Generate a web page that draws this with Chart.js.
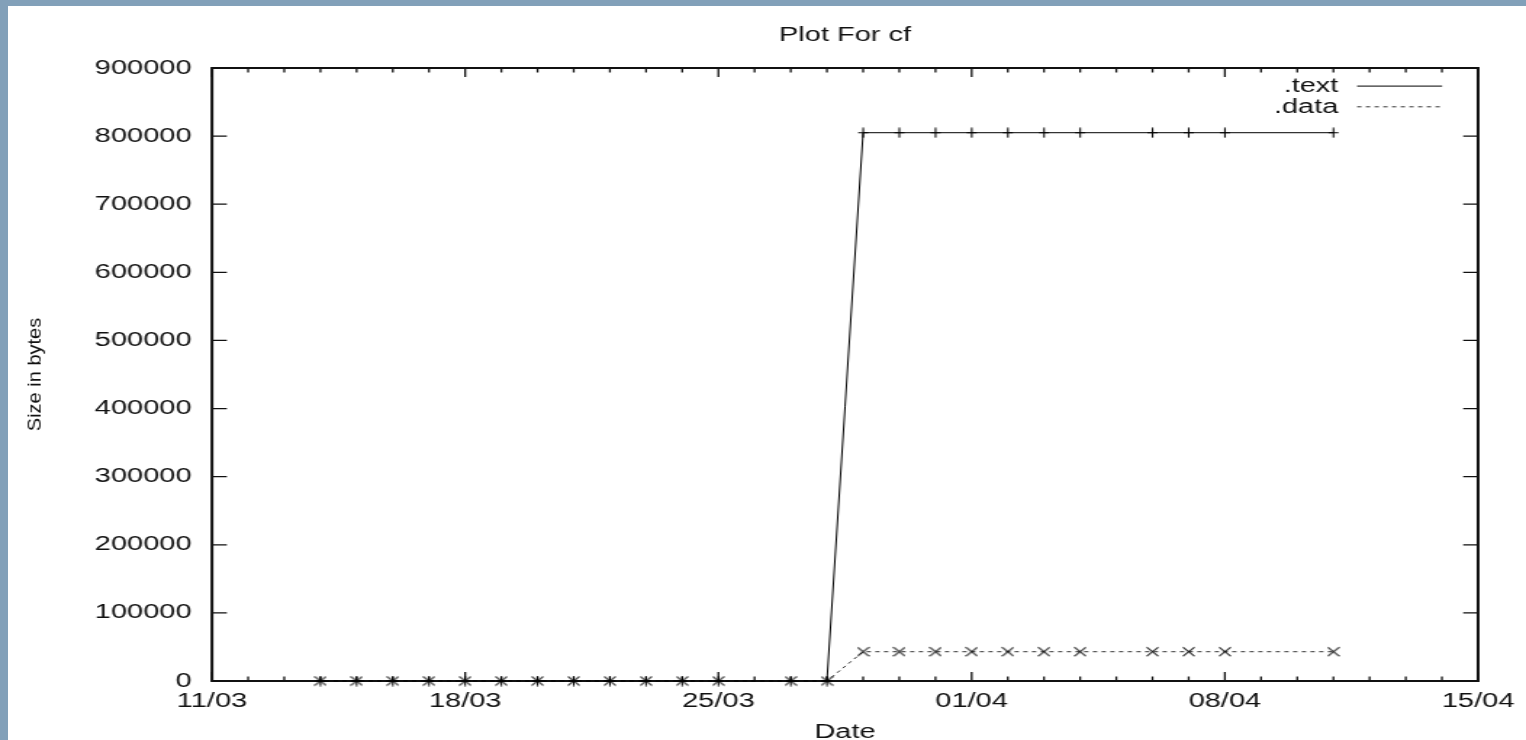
<!DOCTYPE html>
<html>
<head>
<meta charset="utf-8">
<title>Plot For cf</title>
<script src="https://cdn.jsdelivr.net/npm/chart.js@4.4.1/dist/chart.umd.min.js"></script>
<style>
  html, body { margin: 0; padding: 0; overflow: hidden; background: #fff; }
  body { width: 1526px; height: 740px; position: relative; }
  .strip { position: absolute; left: 0; top: 0; background: #82a0b9; z-index: 2; }
  #left { width: 8px; height: 740px; }
  #top { width: 1526px; height: 6px; }
  /* the original png is stretched sideways, so draw narrow and widen it */
  #wrap { position: absolute; left: 0; top: 0; width: 1052px; height: 760px;
          transform: scaleX(1.450570); transform-origin: 0 0; }
  #wrap canvas { display: block; width: 1052px; height: 760px; }
</style>
</head>
<body>
<div class="strip" id="left"></div>
<div class="strip" id="top"></div>
<div id="wrap"><canvas id="myChart" width="1052" height="760"></canvas></div>
<script>
// build dates (dd/mm)
var dates = ["14/03", "15/03", "16/03", "17/03", "18/03", "19/03", "20/03", "21/03",
             "22/03", "23/03", "24/03", "25/03", "27/03", "28/03", "29/03", "30/03",
             "31/03", "01/04", "02/04", "03/04", "04/04", "06/04", "07/04", "08/04", "11/04"];
var textSize = [0, 0, 0, 0, 0, 0, 0, 0, 0, 0, 0, 0, 0, 0,
                805000, 805000, 805000, 805000, 805000, 805000, 805000, 805000, 805000, 805000, 805000];
var dataSize = [0, 0, 0, 0, 0, 0, 0, 0, 0, 0, 0, 0, 0, 0,
                43000, 43000, 43000, 43000, 43000, 43000, 43000, 43000, 43000, 43000, 43000];
var tickLabels = ["11/03", "18/03", "25/03", "01/04", "08/04", "15/04"];
var yTitle = "Size in bytes";

var SX = 1526 / 1052;
var FONT = '"Liberation Sans", Arial, sans-serif';
var INK = "#111";

// days since 11/03
function dayIndex(s) {
  var d = +s.slice(0, 2), m = +s.slice(3);
  return m === 3 ? d - 11 : d + 20;
}

function points(vals) {
  return dates.map(function (d, i) { return {x: dayIndex(d), y: vals[i]}; });
}

// gnuplot marks, drawn narrow so the stretch doesn't widen them
function makeMark(kind, color) {
  var c = document.createElement("canvas");
  c.width = 9; c.height = 11;
  var g = c.getContext("2d");
  g.strokeStyle = color; g.lineWidth = 1.1;
  g.beginPath();
  if (kind === "+") {
    g.moveTo(4.5, 0.5); g.lineTo(4.5, 10.5);
    g.moveTo(1, 5.5); g.lineTo(8, 5.5);
  } else {
    g.moveTo(0.5, 1); g.lineTo(8.5, 10);
    g.moveTo(8.5, 1); g.lineTo(0.5, 10);
  }
  g.stroke();
  return c;
}

var framePlugin = {
  id: "frame",
  beforeDatasetsDraw: function (chart) {
    var ctx = chart.ctx, a = chart.chartArea, x = chart.scales.x, y = chart.scales.y;
    ctx.save();
    ctx.strokeStyle = INK;
    ctx.lineWidth = 1.3;
    ctx.beginPath();
    for (var d = x.min; d <= x.max; d++) {
      var px = x.getPixelForValue(d);
      var len = d % 7 === 0 ? 9 : 4.5;
      ctx.moveTo(px, a.bottom); ctx.lineTo(px, a.bottom - len);
      ctx.moveTo(px, a.top); ctx.lineTo(px, a.top + len);
    }
    y.ticks.forEach(function (t) {
      var py = y.getPixelForValue(t.value);
      ctx.moveTo(a.left, py); ctx.lineTo(a.left + 10.3, py);
      ctx.moveTo(a.right, py); ctx.lineTo(a.right - 10.3, py);
    });
    ctx.stroke();
    ctx.lineWidth = 2;
    ctx.strokeRect(a.left, a.top, a.right - a.left, a.bottom - a.top);
    ctx.restore();
  },
  afterDraw: function (chart) {
    var ctx = chart.ctx, a = chart.chartArea;
    ctx.save();
    ctx.fillStyle = INK;
    ctx.font = "20px " + FONT;
    // key, top right, text then line sample
    ctx.textAlign = "right";
    ctx.textBaseline = "middle";
    chart.data.datasets.forEach(function (ds, i) {
      var ky = a.top + 18.4 + i * 20.7;
      ctx.fillText(ds.label, a.right - 96.3, ky);
      ctx.save();
      ctx.strokeStyle = ds.borderColor;
      ctx.lineWidth = 1;
      ctx.setLineDash(ds.borderDash || []);
      ctx.beginPath();
      ctx.moveTo(a.right - 83.4, ky - 0.3);
      ctx.lineTo(a.right - 24.8, ky - 0.3);
      ctx.stroke();
      ctx.restore();
    });
    // y title is not stretched in the original
    ctx.translate(24.8, (a.top + a.bottom) / 2);
    ctx.scale(0.95 / SX, 1);
    ctx.rotate(-Math.PI / 2);
    ctx.textAlign = "center";
    ctx.fillText(yTitle, 0, 0);
    ctx.restore();
  }
};

new Chart("myChart", {
  type: "line",
  data: {
    datasets: [
      {
        label: ".text",
        data: points(textSize),
        borderColor: "#000",
        borderWidth: 1,
        pointStyle: makeMark("+", "#000"),
        pointRadius: 5,
        tension: 0,
        clip: false
      },
      {
        label: ".data",
        data: points(dataSize),
        borderColor: "#333",
        borderWidth: 1,
        borderDash: [3, 3],
        pointStyle: makeMark("x", "#000"),
        pointRadius: 5,
        tension: 0,
        clip: false
      }
    ]
  },
  options: {
    responsive: false,
    animation: false,
    devicePixelRatio: 1,
    layout: {padding: {left: 0, right: 32.4, top: 0, bottom: 0}},
    plugins: {
      legend: {display: false},
      tooltip: {enabled: false},
      title: {
        display: true,
        text: "Plot For cf",
        fullSize: false,
        color: INK,
        font: {family: FONT, size: 20, weight: "normal"},
        padding: {top: 23.5, bottom: 20.5}
      }
    },
    scales: {
      x: {
        type: "linear",
        min: 0,
        max: 35,
        grid: {display: false, drawTicks: false},
        border: {display: false},
        ticks: {
          stepSize: 7,
          autoSkip: false,
          maxRotation: 0,
          padding: 8,
          color: INK,
          font: {family: FONT, size: 20},
          callback: function (v) { return tickLabels[v / 7]; }
        },
        title: {
          display: true,
          text: "Date",
          color: INK,
          font: {family: FONT, size: 20},
          padding: {top: 0, bottom: 16}
        },
        afterFit: function (s) { s.height = 79; }
      },
      y: {
        min: 0,
        max: 900000,
        grid: {display: false, drawTicks: false},
        border: {display: false},
        ticks: {
          stepSize: 100000,
          padding: 14,
          color: INK,
          font: {family: FONT, size: 20},
          callback: function (v) { return String(v); }
        },
        afterFit: function (s) { s.width = 146.1; }
      }
    }
  },
  plugins: [framePlugin]
});
</script>
</body>
</html>
